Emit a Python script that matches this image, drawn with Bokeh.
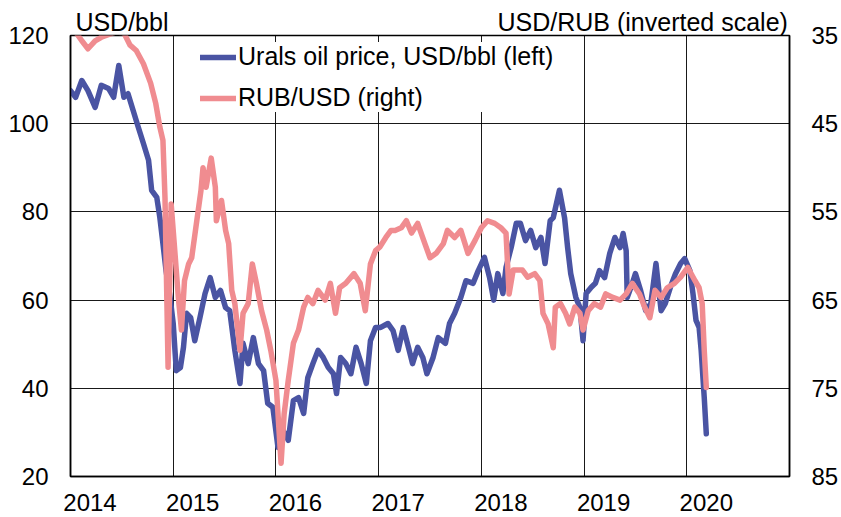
from bokeh.plotting import figure
from bokeh.models import (Range1d, LinearAxis, FixedTicker, Legend, LegendItem,
                          ColumnDataSource)
from bokeh.embed import file_html
from bokeh.resources import INLINE

# ---- data ----
oil_years = [2014.00, 2014.05, 2014.11, 2014.17, 2014.24, 2014.30, 2014.37, 2014.42, 2014.47, 2014.52,
             2014.56, 2014.61, 2014.66, 2014.71, 2014.76, 2014.79, 2014.84, 2014.87, 2014.90, 2014.93,
             2014.97, 2015.00, 2015.03, 2015.07, 2015.10, 2015.13, 2015.17, 2015.21, 2015.26, 2015.31,
             2015.36, 2015.41, 2015.46, 2015.51, 2015.55, 2015.60, 2015.65, 2015.68, 2015.73, 2015.78,
             2015.83, 2015.88, 2015.92, 2015.97, 2016.02, 2016.07, 2016.12, 2016.17, 2016.22, 2016.27,
             2016.31, 2016.36, 2016.41, 2016.46, 2016.51, 2016.56, 2016.59, 2016.63, 2016.68, 2016.73,
             2016.78, 2016.83, 2016.88, 2016.92, 2016.97, 2017.02, 2017.09, 2017.14, 2017.19, 2017.24,
             2017.29, 2017.33, 2017.38, 2017.43, 2017.47, 2017.53, 2017.58, 2017.65, 2017.69, 2017.74,
             2017.80, 2017.85, 2017.92, 2017.97, 2018.03, 2018.08, 2018.12, 2018.16, 2018.21, 2018.24,
             2018.29, 2018.34, 2018.38, 2018.43, 2018.48, 2018.53, 2018.58, 2018.62, 2018.67, 2018.70,
             2018.76, 2018.81, 2018.84, 2018.87, 2018.92, 2018.96, 2018.99, 2019.02, 2019.07, 2019.11,
             2019.15, 2019.20, 2019.25, 2019.30, 2019.35, 2019.38, 2019.41, 2019.42, 2019.47, 2019.50,
             2019.55, 2019.60, 2019.65, 2019.70, 2019.75, 2019.79, 2019.84, 2019.89, 2019.94, 2019.98,
             2020.03, 2020.06, 2020.09, 2020.12, 2020.14, 2020.17, 2020.19]
oil_usd = [107.5, 106.0, 109.8, 107.5, 103.7, 108.7, 108.0, 106.0, 113.2, 106.0,
           106.8, 103.0, 99.2, 95.5, 91.7, 84.9, 83.3, 78.7, 72.8, 66.7,
           60.6, 54.7, 44.0, 44.7, 49.3, 57.0, 56.0, 50.8, 56.0, 61.5,
           65.1, 60.6, 62.2, 58.3, 57.6, 48.6, 41.1, 50.2, 45.6, 51.5,
           45.6, 44.0, 36.6, 35.7, 26.6, 30.4, 28.2, 37.2, 37.9, 34.3,
           42.4, 45.6, 48.6, 47.0, 44.7, 43.3, 38.8, 47.0, 45.6, 43.3,
           49.3, 45.6, 41.1, 50.8, 53.8, 53.8, 54.7, 53.1, 48.6, 53.8,
           49.3, 45.6, 49.3, 47.0, 43.3, 47.0, 51.5, 50.2, 54.7, 57.0,
           60.6, 64.4, 63.8, 66.7, 69.7, 65.1, 60.0, 66.0, 61.5, 67.4,
           71.9, 77.4, 77.4, 73.5, 75.8, 71.9, 74.2, 68.3, 78.0, 78.7,
           84.9, 78.7, 71.9, 66.0, 60.6, 58.3, 50.8, 61.5, 62.9, 63.8,
           66.7, 65.1, 70.6, 74.2, 71.9, 75.1, 71.2, 60.6, 63.8, 66.0,
           62.2, 57.6, 59.2, 68.3, 57.6, 59.2, 62.9, 66.0, 68.3, 69.4,
           66.7, 61.5, 55.4, 53.8, 48.6, 37.9, 29.7]

rub_years = [2014.00, 2014.05, 2014.11, 2014.17, 2014.24, 2014.30, 2014.44, 2014.52, 2014.58, 2014.64,
             2014.71, 2014.78, 2014.83, 2014.87, 2014.90, 2014.92, 2014.95, 2014.98, 2015.01, 2015.05,
             2015.08, 2015.11, 2015.15, 2015.18, 2015.22, 2015.27, 2015.29, 2015.32, 2015.37, 2015.41,
             2015.42, 2015.47, 2015.51, 2015.54, 2015.57, 2015.60, 2015.65, 2015.68, 2015.73, 2015.77,
             2015.81, 2015.86, 2015.91, 2015.95, 2016.00, 2016.05, 2016.08, 2016.12, 2016.17, 2016.22,
             2016.27, 2016.31, 2016.36, 2016.41, 2016.48, 2016.53, 2016.58, 2016.62, 2016.68, 2016.76,
             2016.82, 2016.87, 2016.92, 2016.97, 2017.01, 2017.07, 2017.12, 2017.16, 2017.22, 2017.27,
             2017.32, 2017.38, 2017.45, 2017.50, 2017.56, 2017.63, 2017.67, 2017.74, 2017.80, 2017.87,
             2017.94, 2018.00, 2018.06, 2018.13, 2018.19, 2018.24, 2018.27, 2018.31, 2018.36, 2018.40,
             2018.45, 2018.52, 2018.57, 2018.60, 2018.65, 2018.70, 2018.72, 2018.77, 2018.82, 2018.86,
             2018.91, 2018.96, 2018.99, 2019.04, 2019.10, 2019.16, 2019.21, 2019.28, 2019.35, 2019.41,
             2019.47, 2019.54, 2019.59, 2019.64, 2019.69, 2019.75, 2019.81, 2019.88, 2019.94, 2020.01,
             2020.08, 2020.12, 2020.15, 2020.17, 2020.19]
rub_per_usd = [33.5, 34.6, 35.6, 36.5, 35.6, 35.2, 34.6, 34.7, 36.1, 36.7,
               38.2, 40.4, 42.7, 45.4, 46.9, 53.4, 72.6, 54.1, 58.6, 64.7,
               68.4, 62.8, 60.9, 60.2, 56.8, 52.6, 50.0, 52.2, 48.9, 52.2,
               56.0, 53.7, 57.1, 58.6, 63.9, 65.4, 70.7, 66.5, 65.4, 60.9,
               63.1, 66.2, 68.4, 70.7, 74.1, 83.5, 77.9, 74.1, 69.9, 68.4,
               65.8, 64.7, 65.4, 63.9, 65.0, 63.1, 66.5, 63.6, 63.1, 62.0,
               63.1, 66.2, 60.9, 59.4, 59.0, 57.9, 57.1, 57.1, 56.8, 56.0,
               57.4, 56.3, 58.6, 60.2, 59.7, 58.6, 57.1, 57.9, 57.1, 59.7,
               58.2, 56.8, 56.0, 56.3, 56.8, 57.4, 64.3, 61.6, 61.6, 61.6,
               62.4, 62.0, 62.8, 66.5, 67.7, 70.4, 65.8, 65.4, 66.5, 67.7,
               65.8, 66.5, 68.4, 66.2, 65.4, 65.8, 64.3, 64.7, 65.0, 64.3,
               63.1, 64.3, 65.8, 67.0, 63.9, 64.7, 63.6, 63.1, 62.4, 61.3,
               62.8, 63.6, 65.4, 70.7, 74.9]

year_ticks = [2014, 2015, 2016, 2017, 2018, 2019, 2020]
year_labels = ["2014", "2015", "2016", "2017", "2018", "2019", "2020"]
left_ticks = [20, 40, 60, 80, 100, 120]
right_ticks = [35, 45, 55, 65, 75, 85]

oil_label = "Urals oil price, USD/bbl (left)"
rub_label = "RUB/USD (right)"
left_title = "USD/bbl"
right_title = "USD/RUB (inverted scale)"

# ---- styling ----
FONT = "Liberation Sans"
FS = "24px"
FS_TXT = "25px"
BLUE = "#4A54A3"
PINK = "#F08C90"
LW = 5.5
FRAME_L, FRAME_R = 70, 790   # frame edges in page pixels (for the unit titles)

p = figure(width=841, height=517, output_backend="svg", toolbar_location=None,
           x_range=Range1d(2014, 2021), y_range=Range1d(20, 120),
           min_border_left=FRAME_L, min_border_right=841 - FRAME_R,
           min_border_top=35, min_border_bottom=41,
           background_fill_color="white", border_fill_color="white")
p.extra_y_ranges = {"rub": Range1d(85, 35)}
p.extra_x_ranges = {"px": Range1d(FRAME_L, FRAME_R)}

p.outline_line_color = "black"
p.outline_line_width = 1.5
p.outline_line_alpha = 1

# grids
p.ygrid.ticker = FixedTicker(ticks=left_ticks)
p.xgrid.ticker = FixedTicker(ticks=year_ticks + [year_ticks[-1] + 1])
for g in (p.xgrid, p.ygrid):
    g.grid_line_color = "black"
    g.grid_line_width = 1
    g.grid_line_alpha = 0.9

# x axis: labels sit a bit to the right of the year boundary
label_pos = [y + 0.19 for y in year_ticks]
xa = p.xaxis[0]
xa.ticker = FixedTicker(ticks=label_pos)
xa.major_label_overrides = {pos: lab for pos, lab in zip(label_pos, year_labels)}
xa.major_label_standoff = 17

ya = p.yaxis[0]
ya.ticker = FixedTicker(ticks=left_ticks)
ya.major_label_standoff = 22

ra = LinearAxis(y_range_name="rub", ticker=FixedTicker(ticks=right_ticks))
ra.major_label_standoff = 22
p.add_layout(ra, "right")

# unit titles above the frame, as labels of a bare top axis
title_pos = [FRAME_L + 51.5, FRAME_R - 147]
ta = LinearAxis(x_range_name="px", ticker=FixedTicker(ticks=title_pos))
ta.major_label_overrides = {title_pos[0]: left_title, title_pos[1]: right_title}
ta.major_label_standoff = 0
ta.axis_line_color = None
p.add_layout(ta, "above")

for ax in (xa, ya, ra, ta):
    ax.major_tick_line_color = None
    ax.minor_tick_line_color = None
    ax.major_tick_out = 0
    ax.major_tick_in = 0
    ax.minor_tick_out = 0
    ax.minor_tick_in = 0
    ax.major_label_text_font = FONT
    ax.major_label_text_font_size = FS
    ax.major_label_text_color = "black"
for ax in (xa, ya, ra):
    ax.axis_line_color = "black"
    ax.axis_line_width = 1.5
ta.major_label_text_font_size = FS_TXT

# series
src_oil = ColumnDataSource(dict(x=oil_years, y=oil_usd))
src_rub = ColumnDataSource(dict(x=rub_years, y=rub_per_usd))
r_oil = p.line("x", "y", source=src_oil, line_color=BLUE, line_width=LW,
               line_join="round", line_cap="round")
r_rub = p.line("x", "y", source=src_rub, line_color=PINK, line_width=LW,
               line_join="round", line_cap="round", y_range_name="rub")

legend = Legend(items=[LegendItem(label=oil_label, renderers=[r_oil]),
                       LegendItem(label=rub_label, renderers=[r_rub])],
                location=(130, 364), orientation="vertical",
                label_text_font=FONT, label_text_font_size=FS_TXT, label_text_color="black",
                glyph_width=36, glyph_height=24, label_standoff=2, spacing=12,
                padding=5, margin=0, border_line_color=None,
                background_fill_color="white", background_fill_alpha=1)
p.add_layout(legend)

open("out.html", "w").write(file_html(p, INLINE))
